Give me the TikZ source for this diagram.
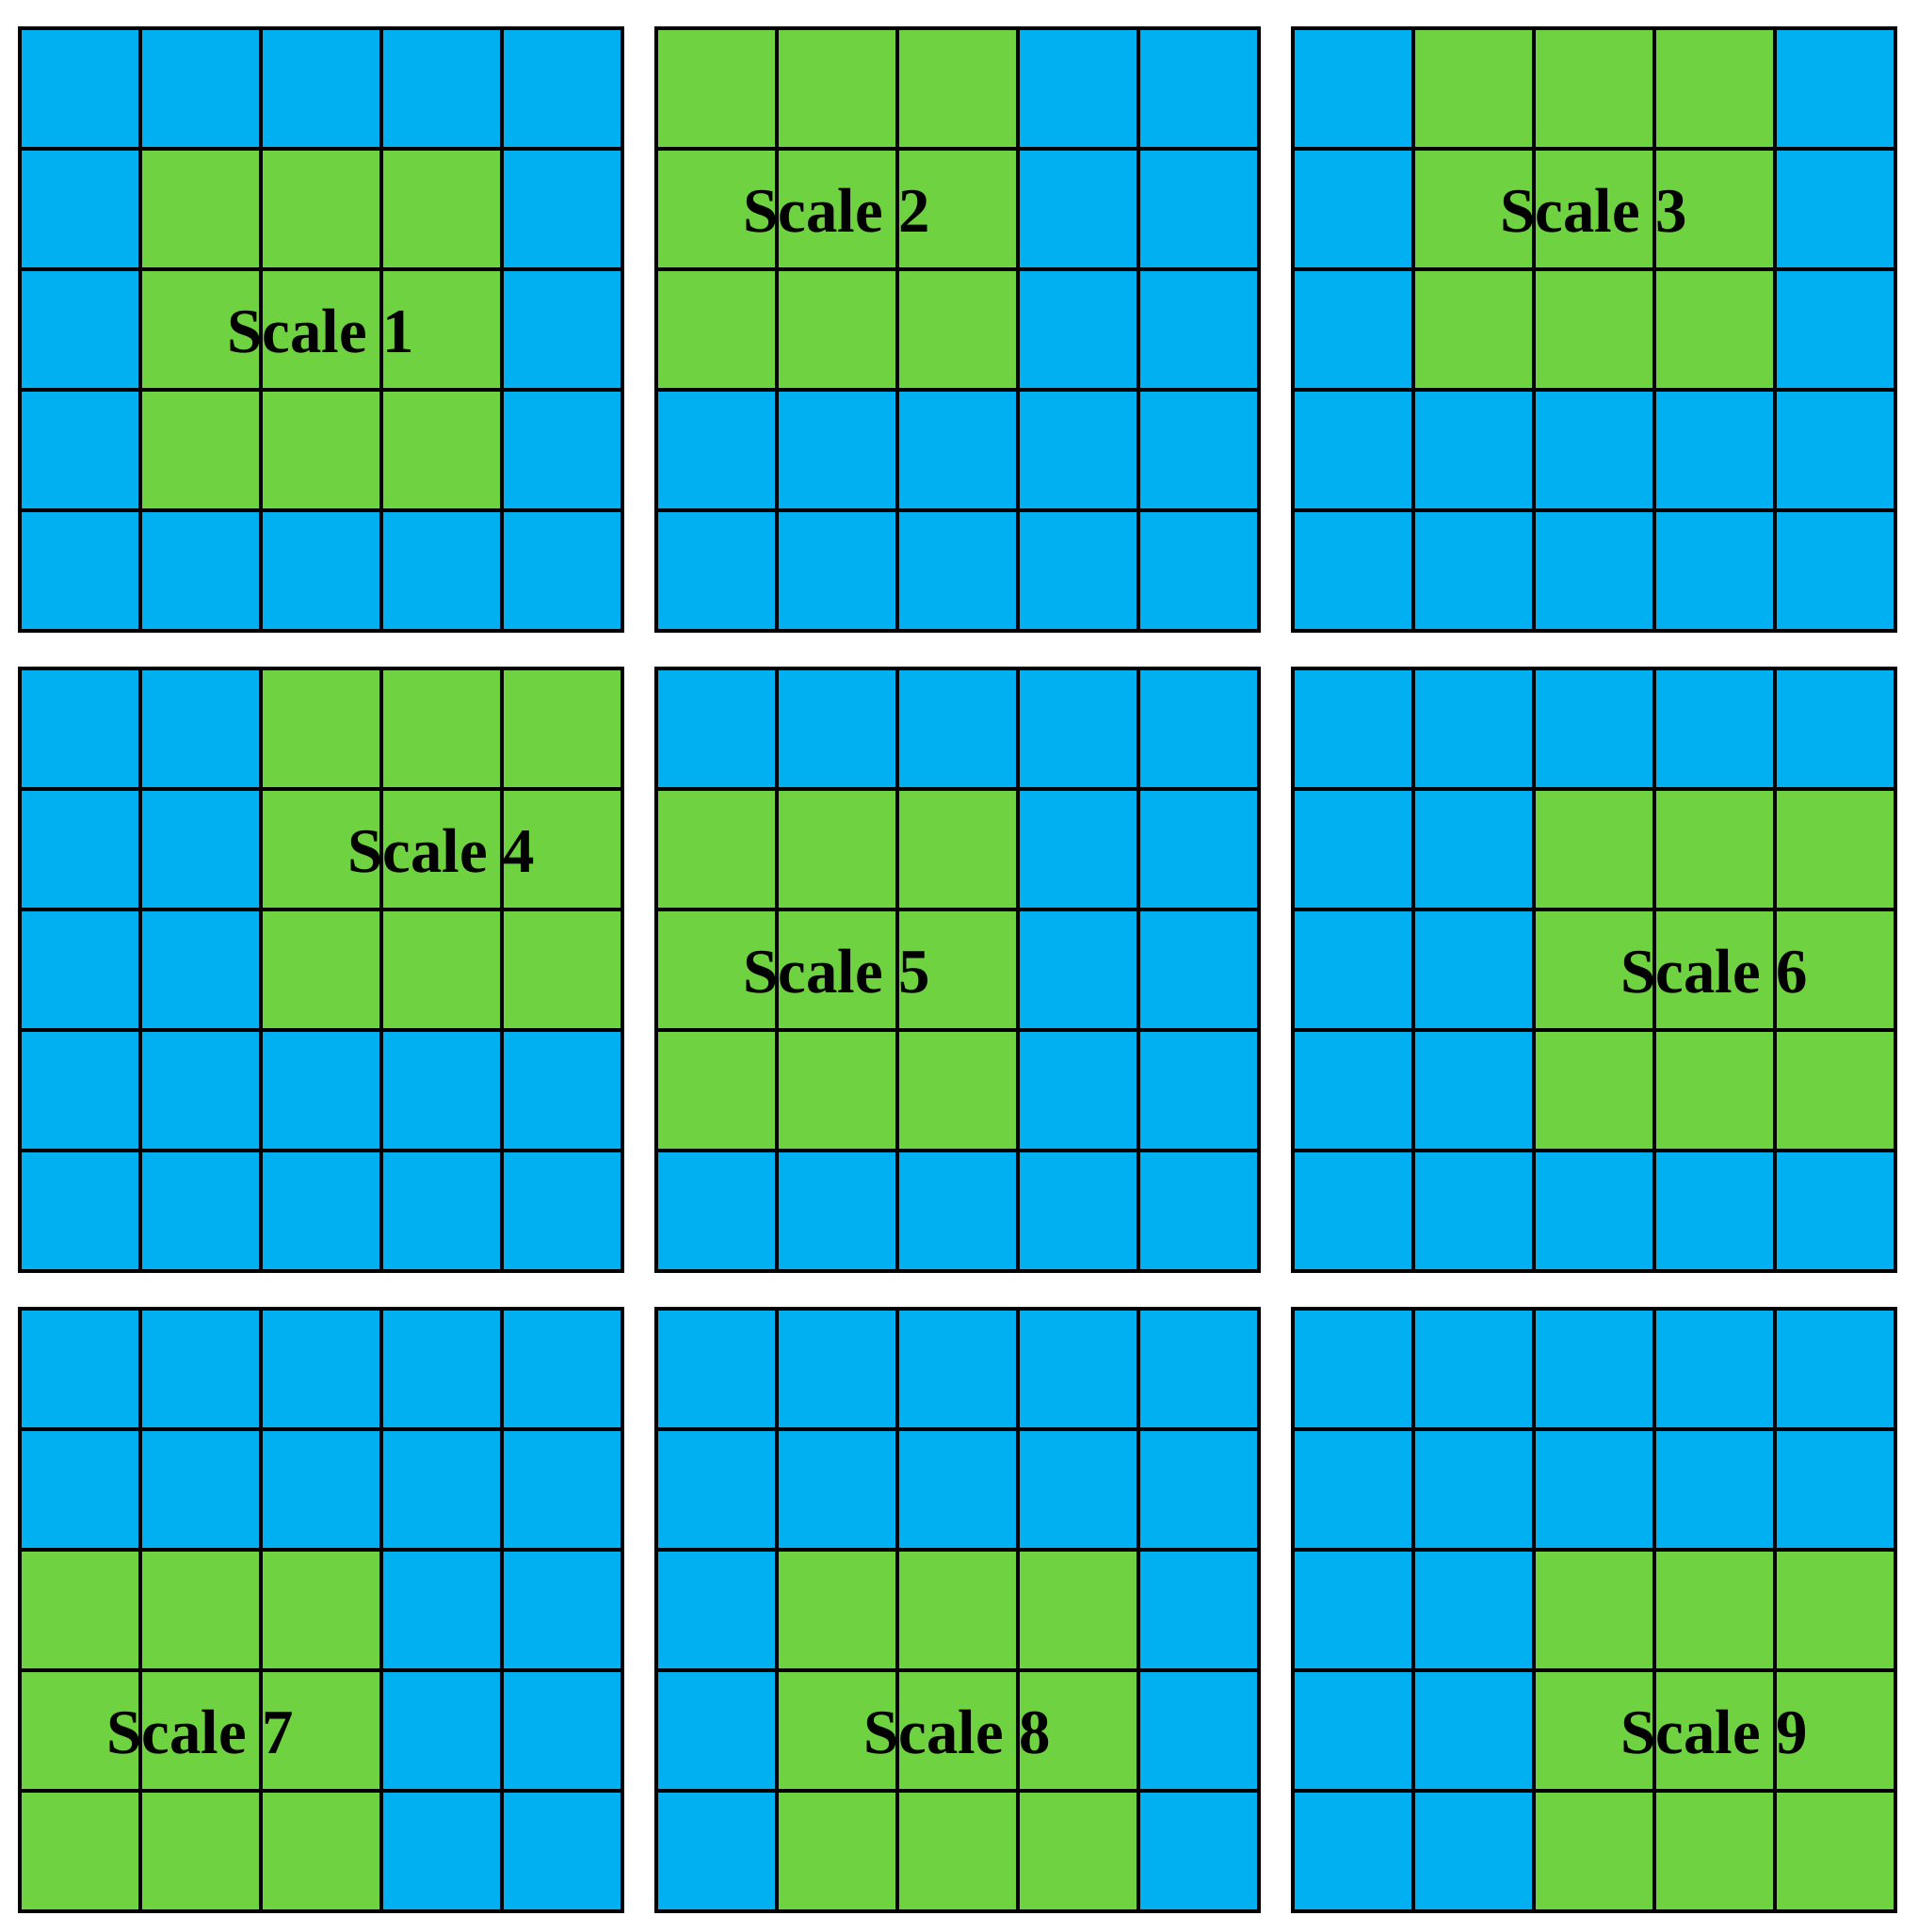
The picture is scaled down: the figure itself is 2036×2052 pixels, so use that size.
\documentclass[tikz,border=0pt]{standalone}
\usepackage{fontspec}
\setmainfont{Liberation Serif}
\definecolor{cellblue}{RGB}{0,176,240}
\definecolor{cellgreen}{RGB}{111,210,64}
\begin{document}
\begin{tikzpicture}[x=0.01cm,y=-0.01cm,
  gridline/.style={black,line width=1.05pt},
  scalelabel/.style={font=\fontsize{19}{23}\selectfont\bfseries,inner sep=0pt}]
\useasboundingbox (0,0) rectangle (2036,2052);
\foreach \n/\gi/\gj/\a/\b in {1/0/0/1/1, 2/1/0/0/0, 3/2/0/1/0, 4/0/1/2/0, 5/1/1/0/1, 6/2/1/2/1, 7/0/2/0/2, 8/1/2/1/2, 9/2/2/2/2} {
  \pgfmathsetmacro\ox{21+676*\gi}
  \pgfmathsetmacro\oy{30+680*\gj}
  \begin{scope}[shift={(\ox,\oy)}]
    \fill[cellblue] (0,0) rectangle (640,640);
    \fill[cellgreen] (\a*128,\b*128) rectangle ++(384,384);
    \foreach \k in {1,2,3,4} {
      \draw[gridline] (\k*128,0) -- (\k*128,640);
      \draw[gridline] (0,\k*128) -- (640,\k*128);
    }
    \draw[gridline] (0,0) rectangle (640,640);
    \node[scalelabel] (label\n) at (\a*128+192,\b*128+194) {Scale \n};
  \end{scope}
}
\end{tikzpicture}
\end{document}
